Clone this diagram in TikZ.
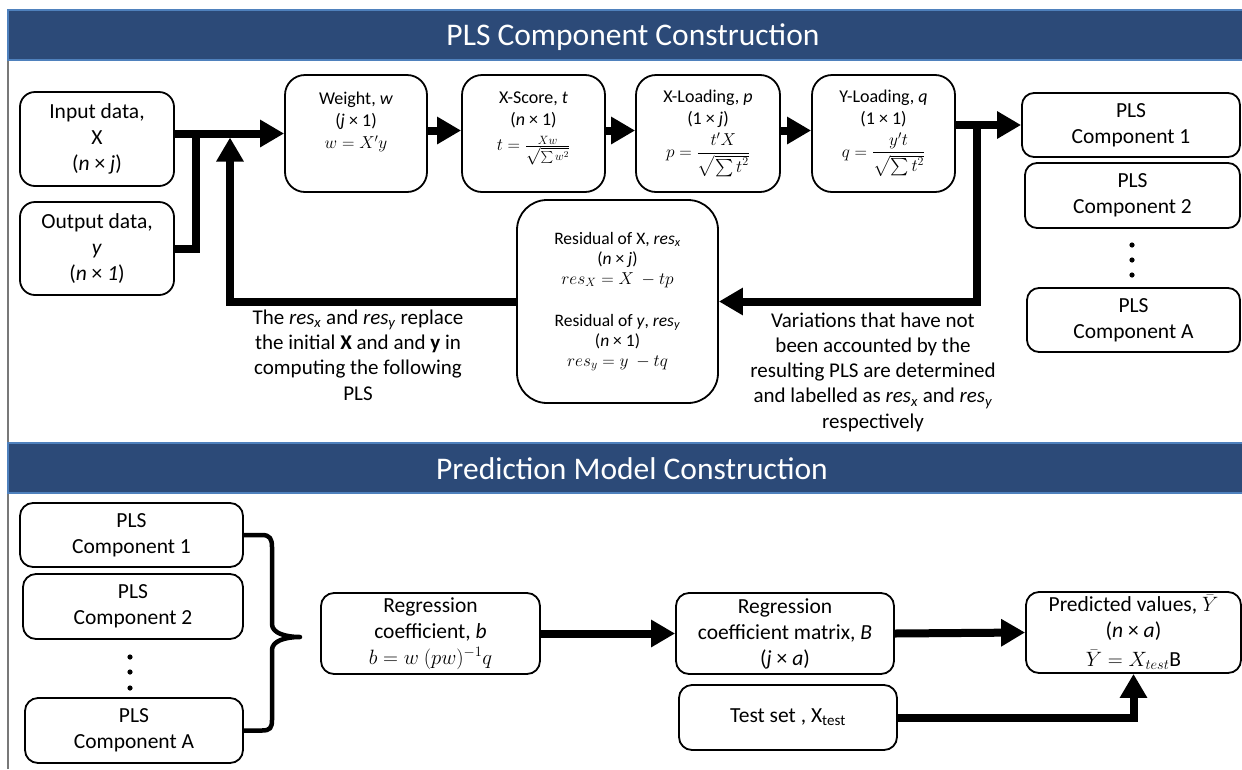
\documentclass[tikz,border=0pt]{standalone}
\usepackage{amsmath}
\usepackage{fontspec}
\setmainfont{Carlito}
\usetikzlibrary{arrows.meta}
\definecolor{hdr}{RGB}{44,74,120}
\definecolor{hdrline}{RGB}{79,129,189}
\definecolor{framegray}{RGB}{120,120,120}
\newcommand{\fsBig}{\fontsize{21.5}{26}\selectfont}
\newcommand{\fsMid}{\fontsize{18}{22}\selectfont}
\newcommand{\fsSmall}{\fontsize{17.5}{20}\selectfont}
\newcommand{\fsNote}{\fontsize{21}{25.3}\selectfont}
\newcommand{\fsTitle}{\fontsize{31.5}{36}\selectfont}
\newcommand{\rsx}{\textit{res}\textsubscript{\textit{x}}}
\newcommand{\rsy}{\textit{res}\textsubscript{\textit{y}}}
\begin{document}
\begin{tikzpicture}[x=1pt,y=-1pt,
  box/.style={draw=black, line width=1.8pt, rounded corners=#1, align=center, inner sep=0pt, fill=white},
  box/.default=13pt,
  flow/.style={line width=8pt, -{Triangle[length=24pt,width=26pt]}},
  bar/.style={line width=8pt},
  brace/.style={line width=4.5pt, line join=round},
  hdrbar/.style={fill=hdr, draw=hdrline, line width=1.5pt},
  title/.style={text=white, font=\fsTitle},
  note/.style={align=center, font=\fsNote, inner sep=0pt}]
\useasboundingbox (0,0) rectangle (1242,769);
% frame
\draw[framegray, line width=1.5pt] (8,769) -- (8,10) -- (1242,10);
% headers
\path[hdrbar] (8,10) rectangle (1243,60);
\node[title] (t1) at (633,37) {PLS Component Construction};
\path[hdrbar] (8,443) rectangle (1243,493);
\node[title] (t2) at (632,469) {Prediction Model Construction};
% top row
\node[box=15pt, minimum width=154pt, minimum height=94pt, font=\fsBig] (in) at (97,139) {Input data,\\X\\(\textit{n} × \textit{j})};
\node[box=15pt, minimum width=154pt, minimum height=93pt, font=\fsBig] (out) at (97,248.5) {Output data,\\\textit{y}\\(\textit{n} × \textit{1})};
\node[box=20pt, minimum width=142pt, minimum height=117pt, font=\fsMid] (w) at (356,133.5) {Weight, \textit{w}\\(\textit{j} × 1)\\$w = X'y$\\[4pt]};
\node[box=20pt, minimum width=143pt, minimum height=117pt, font=\fsMid] (xs) at (533.5,133.5) {X-Score, \textit{t}\\(\textit{n} × 1)\\[3pt]$t = \frac{Xw}{\sqrt{\sum w^2}}$\\[2pt]};
\node[box=20pt, minimum width=144pt, minimum height=117pt, font=\fsMid] (xl) at (708,133.5) {X-Loading, \textit{p}\\(1 × \textit{j})\\[4pt]$p = \dfrac{t'X}{\sqrt{\textstyle\sum t^2}}$};
\node[box=20pt, minimum width=143pt, minimum height=117pt, font=\fsMid] (yl) at (883.5,133.5) {Y-Loading, \textit{q}\\(1 × 1)\\[4pt]$q = \dfrac{y't}{\sqrt{\textstyle\sum t^2}}$};
% PLS components (top right)
\node[box=12pt, minimum width=218pt, minimum height=64pt, font=\fsBig] (c1) at (1131,125) {PLS\\Component 1};
\node[box=12pt, minimum width=215pt, minimum height=65pt, font=\fsBig] (c2) at (1132.5,195.5) {PLS\\Component 2};
\node[box=12pt, minimum width=213pt, minimum height=64pt, font=\fsBig] (cA) at (1133.5,320) {PLS\\Component A};
\foreach \yy in {245,260,275} \fill (1132,\yy) circle (2.6pt);
% residual
\node[box=30pt, minimum width=201pt, minimum height=203pt, font=\fsSmall] (res) at (617.5,301.5) {Residual of X, \rsx\\(\textit{n} × \textit{j})\\$res_X = X\ - tp$\\[22pt]Residual of \textit{y}, \rsy\\(\textit{n} × 1)\\$res_y = y\ - tq$};
% notes
\node[note] (n1) at (358,355) {The \rsx\ and \rsy\ replace\\the initial \textbf{X} and and \textbf{y} in\\computing the following\\PLS};
\node[note] (n2) at (873,372) {Variations that have not\\been accounted by the\\resulting PLS are determined\\and labelled as \rsx\ and \rsy\\respectively};
% top connectors
\coordinate (j1) at (196,133.5);
\coordinate (fbtip) at (230,137.5);
\coordinate (br) at (977,125);
\draw[flow] (in.east |- w.west) -- (w.west);
\draw[bar] (out.east) -| (j1);
\draw[flow] (res.west) -| (fbtip);
\draw[flow] ([yshift=3pt]w.east) -- ([yshift=3pt]xs.west);
\draw[flow] ([yshift=3pt]xs.east) -- ([yshift=3pt]xl.west);
\draw[flow] ([yshift=3pt]xl.east) -- ([yshift=3pt]yl.west);
\draw[flow] (yl.east |- c1.west) -- (c1.west);
\draw[flow] (br) |- (res.east);
% bottom section
\node[box=13pt, minimum width=223pt, minimum height=64pt, font=\fsBig] (b1) at (131.5,535) {PLS\\Component 1};
\node[box=13pt, minimum width=220pt, minimum height=65pt, font=\fsBig] (b2) at (133,606.5) {PLS\\Component 2};
\node[box=13pt, minimum width=218pt, minimum height=65pt, font=\fsBig] (bA) at (134,730.5) {PLS\\Component A};
\foreach \yy in {657,672,688} \fill (130,\yy) circle (2.6pt);
\node[box=13pt, minimum width=219pt, minimum height=81pt, font=\fsBig] (reg) at (430.5,633.5) {Regression\\coefficient, \textit{b}\\$b = w\ (pw)^{-1}q$};
\node[box=13pt, minimum width=218pt, minimum height=81pt, font=\fsBig] (regm) at (785,633.5) {Regression\\coefficient matrix, \textit{B}\\(\textit{j} × \textit{a})};
\node[box=13pt, minimum width=215pt, minimum height=81pt, font=\fsBig] (pred) at (1133.5,632.5) {Predicted values, $\bar{Y}$\\(\textit{n} × \textit{a})\\[3pt]$\bar{Y} = X_{test}$B};
\node[box=13pt, minimum width=218pt, minimum height=65pt, font=\fsBig] (test) at (788,717.5) {Test set , X\textsubscript{test}};
% brace
\coordinate (btip) at (300,637);
\draw[brace] (b1.east) -- (262,535) .. controls (270,535) and (272,539) .. (272,547) -- (272,624)
  .. controls (272,633) and (285,637) .. (btip)
  .. controls (285,637) and (272,641) .. (272,650) -- (272,720)
  .. controls (272,728) and (270,730.5) .. (262,730.5) -- (bA.east);
% bottom connectors
\draw[flow] (reg.east) -- (regm.west);
\draw[flow] (regm.east) -- (pred.west);
\draw[flow] (test.east) -| (pred.south);
\end{tikzpicture}
\end{document}
